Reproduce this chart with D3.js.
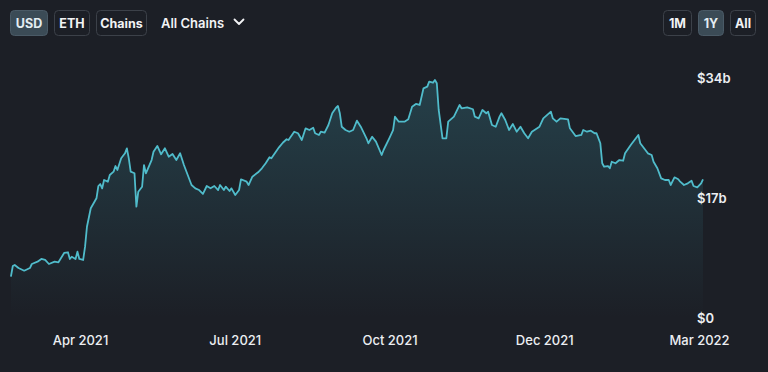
<!DOCTYPE html>
<html lang="en">
<head>
<meta charset="UTF-8">
<title>TVL</title>
<script src="https://d3js.org/d3.v7.min.js"></script>
<style>
  * { box-sizing: border-box; margin: 0; padding: 0; }
  body { background: #1c1f26; width: 768px; height: 372px; overflow: hidden; font-family: Inter, "Noto Sans", sans-serif; }
  svg { display: block; }
  .axis text { fill: #eceef2; font-family: Inter, sans-serif; }
  .axis path, .axis line { display: none; }
</style>
</head>
<body>
<svg id="chart" width="768" height="372"></svg>
<script>
// days since 2021-03-03 and TVL in billions USD
const days = [1, 2, 3, 5, 8, 11, 12, 15, 17, 19, 21, 24, 26, 29, 31, 32, 33, 35, 36, 37,
  39, 40, 41, 43, 46, 47, 48, 49, 50, 52, 53, 55, 56, 57, 59, 61, 62, 63, 64, 66,
  67, 68, 70, 71, 72, 75, 76, 78, 80, 82, 84, 86, 88, 90, 92, 94, 96, 98, 100, 102,
  104, 106, 108, 110, 111, 113, 114, 116, 117, 119, 121, 122, 125, 126, 128, 131, 133, 135, 137, 138,
  140, 142, 144, 146, 147, 150, 152, 154, 156, 158, 160, 161, 163, 164, 166, 168, 170, 172, 173, 174,
  175, 177, 179, 181, 183, 185, 188, 189, 191, 193, 196, 197, 200, 202, 203, 205, 208, 210, 212, 214,
  216, 218, 220, 221, 223, 224, 225, 226, 228, 230, 231, 234, 237, 238, 241, 244, 245, 247, 249, 251,
  252, 254, 256, 258, 259, 261, 263, 265, 267, 269, 271, 273, 275, 279, 281, 285, 286, 288, 290, 294,
  295, 298, 301, 302, 304, 306, 308, 309, 311, 312, 313, 315, 316, 317, 319, 321, 323, 324, 327, 329,
  331, 332, 334, 336, 338, 339, 341, 343, 345, 347, 348, 350, 352, 353, 355, 357, 359, 360, 362, 364, 365];
const tvl = [5.85, 7.37, 7.51, 7.08, 6.70, 7.08, 7.65, 7.98, 8.36, 8.22, 7.65, 7.98, 7.89, 9.21, 9.31, 8.36, 8.68, 8.36, 9.39, 8.36,
  8.22, 10.10, 12.93, 15.54, 16.96, 18.70, 18.98, 18.37, 19.55, 19.31, 20.26, 20.73, 21.53, 20.97, 22.62, 23.33, 24.04, 22.62, 20.73, 20.50,
  15.77, 17.89, 18.60, 21.67, 20.50, 22.38, 23.56, 24.37, 23.19, 24.04, 22.85, 23.23, 22.38, 23.33, 21.67, 20.26, 18.84, 18.37, 18.13, 17.57,
  18.70, 18.37, 18.70, 18.13, 18.84, 18.13, 18.60, 17.99, 18.37, 17.43, 18.13, 19.65, 19.31, 18.84, 20.02, 20.64, 21.21, 21.92, 22.77, 22.62,
  23.42, 24.18, 24.83, 25.32, 25.22, 26.39, 26.17, 25.22, 26.87, 26.63, 26.96, 26.17, 25.93, 26.39, 26.25, 27.34, 29.00, 29.79, 30.03, 29.00,
  27.10, 26.63, 26.39, 26.63, 27.95, 27.10, 25.46, 24.75, 25.68, 24.98, 23.09, 23.80, 25.46, 26.63, 28.52, 27.81, 27.81, 28.15, 29.93, 30.32,
  30.18, 32.54, 32.77, 33.48, 33.33, 33.72, 33.25, 29.47, 25.46, 25.46, 27.81, 28.52, 30.18, 29.71, 29.85, 29.57, 28.52, 28.29, 29.47, 29.00,
  29.23, 27.34, 27.10, 28.52, 29.00, 28.05, 26.63, 27.48, 26.39, 27.10, 26.17, 25.46, 26.39, 27.10, 28.29, 29.23, 28.29, 27.81, 28.29, 28.15,
  26.87, 25.78, 25.93, 26.63, 26.39, 26.53, 26.17, 26.17, 24.75, 21.92, 21.43, 21.53, 21.21, 22.14, 21.92, 22.38, 22.28, 23.33, 24.51, 25.22,
  25.93, 24.75, 24.04, 23.33, 23.09, 22.14, 21.21, 19.79, 19.55, 19.55, 18.84, 19.93, 19.65, 19.31, 18.84, 19.08, 19.45, 18.70, 18.51, 19.08, 19.65];

const xLabels = ['Apr 2021', 'Jul 2021', 'Oct 2021', 'Dec 2021', 'Mar 2022'];
const yTicks = [0, 17, 34];
const yTickLabels = ['$0', '$17b', '$34b'];
const leftButtons = ['USD', 'ETH', 'Chains'];
const rightButtons = ['1M', '1Y', 'All'];
const activeButtons = ['USD', '1Y'];

const start = new Date(2021, 2, 3);
const data = days.map((d, i) => ({ date: d3.timeDay.offset(start, d), value: tvl[i] }));

const svg = d3.select('#chart');

const x = d3.scaleTime().domain([start, d3.timeDay.offset(start, 365)]).range([9, 703]);
const y = d3.scaleLinear().domain([0, 34]).range([318, 78]);
const xLab = d3.scalePoint().domain(xLabels).range([80, 699]);

// area gradient
const grad = svg.append('defs').append('linearGradient')
  .attr('id', 'fade').attr('gradientUnits', 'userSpaceOnUse')
  .attr('x1', 0).attr('y1', y(34)).attr('x2', 0).attr('y2', y(0));
grad.append('stop').attr('offset', 0).attr('stop-color', '#3f9fb0').attr('stop-opacity', 0.26);
grad.append('stop').attr('offset', 1).attr('stop-color', '#3f9fb0').attr('stop-opacity', 0);

svg.append('path').datum(data)
  .attr('fill', 'url(#fade)')
  .attr('d', d3.area().x(d => x(d.date)).y0(y(0)).y1(d => y(d.value)));

svg.append('path').datum(data)
  .attr('fill', 'none')
  .attr('stroke', '#50bccb')
  .attr('stroke-width', 1.8)
  .attr('stroke-linejoin', 'round')
  .attr('d', d3.line().x(d => x(d.date)).y(d => y(d.value)));

// y axis
svg.append('g').attr('class', 'axis')
  .attr('transform', 'translate(692,0)')
  .call(d3.axisRight(y).tickValues(yTicks).tickSize(0).tickPadding(5)
    .tickFormat((d, i) => yTickLabels[i]))
  .selectAll('text').attr('font-size', 13).attr('font-weight', 600);

// x axis
svg.append('g').attr('class', 'axis')
  .attr('transform', 'translate(0,336)')
  .call(d3.axisBottom(xLab).tickSize(0).tickPadding(0))
  .selectAll('text').attr('font-size', 13).attr('font-weight', 500);

// buttons
function drawButtons(labels, x0, widths) {
  let cx = x0;
  labels.forEach((lab, i) => {
    const active = activeButtons.includes(lab);
    const g = svg.append('g').attr('transform', `translate(${cx},10)`);
    g.append('rect')
      .attr('x', 0.5).attr('y', 0.5).attr('width', widths[i]).attr('height', 25).attr('rx', 4)
      .attr('fill', active ? '#3b4b56' : '#1c1f26')
      .attr('stroke', active ? '#4a5a66' : '#3c4149');
    g.append('text')
      .attr('x', widths[i] / 2 + 0.5).attr('y', 17.5)
      .attr('text-anchor', 'middle')
      .attr('fill', active ? '#e4edf2' : '#f2f3f5')
      .attr('font-size', 12.5).attr('font-weight', 700)
      .text(lab);
    cx += widths[i] + 7;
  });
}
drawButtons(leftButtons, 10, [37, 35, 50]);
drawButtons(rightButtons, 663, [28, 25, 25]);

svg.append('text')
  .attr('x', 161).attr('y', 28)
  .attr('fill', '#f2f3f5').attr('font-size', 13).attr('font-weight', 600)
  .text('All Chains');
svg.append('path')
  .attr('d', 'M234.5,19.5 L239,24 L243.5,19.5')
  .attr('fill', 'none').attr('stroke', '#f2f3f5').attr('stroke-width', 1.8)
  .attr('stroke-linecap', 'round').attr('stroke-linejoin', 'round');
</script>
</body>
</html>
